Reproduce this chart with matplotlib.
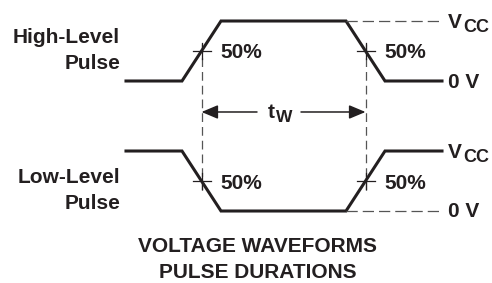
import matplotlib
matplotlib.use("Agg")
import matplotlib.pyplot as plt

plt.rcParams["font.family"] = ["Liberation Sans", "DejaVu Sans"]
plt.rcParams["font.weight"] = "bold"

# waveform data (time units, levels in fractions of VCC)
t_edges = [0, 56, 95, 220, 259, 316]
high_level = [0, 0, 1, 1, 0, 0]
low_level = [1, 1, 0, 0, 1, 1]
trace_names = [["High-Level", "Pulse"], ["Low-Level", "Pulse"]]
vcc_main, vcc_sub = "V", "CC"
zero_label = "0 V"
pct_label = "50%"
tw_main, tw_sub = "t", "W"
title_lines = ["VOLTAGE WAVEFORMS", "PULSE DURATIONS"]

ink = "#231f20"
dash_col = "#555555"
fs = 15

fig = plt.figure(figsize=(4.92, 2.83), dpi=100)
ax = fig.add_axes([0, 0, 1, 1])
ax.set_xlim(-126, 366)
ax.set_ylim(-3.367, 1.35)
ax.axis("off")

off_low = -2.167  # baseline of lower trace
t_rise = (t_edges[1] + t_edges[2]) / 2
t_fall = (t_edges[3] + t_edges[4]) / 2


def py(p):
    # pixel row -> y units (layout helper for text placement)
    return (81 - p) / 60


ax.plot(t_edges, high_level, color=ink, lw=2.2, solid_joinstyle="miter")
ax.plot(t_edges, [v + off_low for v in low_level], color=ink, lw=2.2,
        solid_joinstyle="miter")

# reference dashed levels
ax.plot([t_edges[3], t_edges[-1]], [1, 1], color=dash_col, lw=0.9,
        dashes=(9, 4))
ax.plot([t_edges[3], t_edges[-1]], [off_low, off_low], color=dash_col,
        lw=0.9, dashes=(9, 4))

# vertical 50% markers
for tc in (t_rise, t_fall):
    ax.plot([tc, tc], [py(44), py(193)], color=dash_col, lw=0.9,
            dashes=(7, 4))
    for yc in (0.5, off_low + 0.5):
        ax.plot([tc - 9, tc + 9], [yc, yc], color=ink, lw=0.9)
        ax.plot([tc, tc], [yc - 0.13, yc + 0.13], color=ink, lw=0.9)
    for yc in (0.48, off_low + 0.46):
        ax.text(tc + 19, yc, pct_label, fontsize=fs, color=ink,
                ha="left", va="center")

# pulse width arrow
y_arr = py(112)
for tip, tail in ((t_rise, 131), (t_fall, 175)):
    ax.annotate("", xy=(tip, y_arr), xytext=(tail, y_arr),
                arrowprops=dict(arrowstyle="-|>,head_length=1.0,head_width=0.42",
                                mutation_scale=10, color=ink, lw=1.1,
                                shrinkA=0, shrinkB=0))
ax.text(142, py(118), tw_main, fontsize=fs, color=ink, ha="left",
        va="baseline")
ax.text(150, py(122), tw_sub, fontsize=12.5, color=ink, ha="left",
        va="baseline")

# trace labels
for names, (b1, b2) in zip(trace_names, ((43, 69), (183, 209))):
    ax.text(-6, py(b1), names[0], fontsize=fs, color=ink, ha="right",
            va="baseline")
    ax.text(-6, py(b2), names[1], fontsize=fs, color=ink, ha="right",
            va="baseline")

# level labels
for pv, pc, pz in ((28, 32, 88), (158, 162, 217)):
    ax.text(322, py(pv), vcc_main, fontsize=fs, color=ink, va="baseline")
    ax.text(337.5, py(pc), vcc_sub, fontsize=13, color=ink, va="baseline")
    ax.text(322, py(pz), zero_label, fontsize=fs, color=ink, va="baseline")

# caption
for line, pb in zip(title_lines, (252, 278)):
    ax.text(131.5, py(pb), line, fontsize=fs, color=ink, ha="center",
            va="baseline")

fig.savefig("out.png", dpi=100)
